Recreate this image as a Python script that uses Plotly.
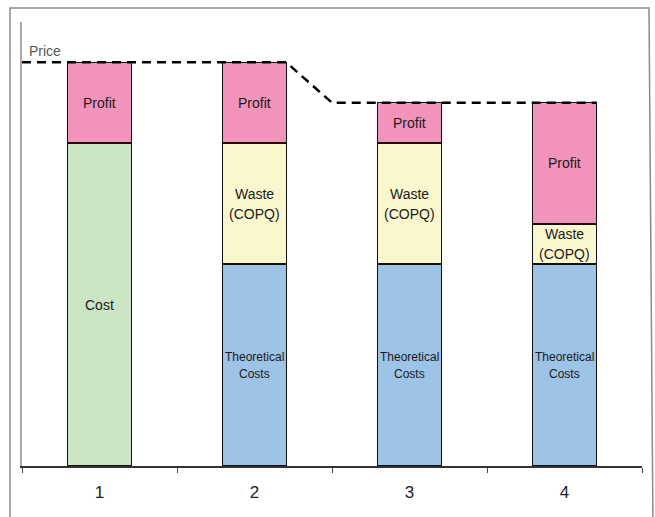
import plotly.graph_objects as go

# Chart data
categories = [1, 2, 3, 4]
tick_labels = ["1", "2", "3", "4"]
cost = [80, None, None, None]
theoretical = [None, 50, 50, 50]
waste = [None, 30, 30, 10]
profit = [20, 20, 10, 30]
price_levels = [100, 90]

BAR_W = 0.41
FONT = "Liberation Sans, Arial, sans-serif"
OUTLINE = dict(color="#111111", width=1.5)

fig = go.Figure()

series = [
    ("Cost", cost, "#CCE5C4"),
    ("Theoretical", theoretical, "#9DC3E6"),
    ("Waste", waste, "#FAF7CF"),
    ("Profit", profit, "#F293BC"),
]
for name, vals, color in series:
    fig.add_trace(go.Bar(
        x=categories, y=vals, name=name, width=BAR_W,
        marker=dict(color=color, line=OUTLINE),
        hoverinfo="skip", showlegend=False,
    ))

# Segment labels centred inside each stacked piece (one annotation per line)
label_text = {
    "Cost": (["Cost"], 14, 0),
    "Theoretical": (["Theoretical", "Costs"], 12, 17),
    "Waste": (["Waste", "(COPQ)"], 14, 20),
    "Profit": (["Profit"], 14, 0),
}
base = [0.0] * len(categories)
for name, vals, _ in series:
    for i, v in enumerate(vals):
        if v:
            lines, size, gap = label_text[name]
            n = len(lines)
            for k, line in enumerate(lines):
                fig.add_annotation(
                    x=categories[i], y=base[i] + v / 2, text=line, showarrow=False,
                    font=dict(family=FONT, size=size, color="#1a1a1a"),
                    xanchor="center", yanchor="middle",
                    yshift=((n - 1) / 2 - k) * gap,
                )
            base[i] += v

# Price line: runs along the tops of the first two bars, steps down, then the last two
price_x = [0.5, categories[1] + BAR_W / 2, categories[1] + 0.5, categories[3] + BAR_W / 2]
price_y = [price_levels[0], price_levels[0], price_levels[1], price_levels[1]]
fig.add_trace(go.Scatter(
    x=price_x, y=price_y, mode="lines",
    line=dict(color="#000000", width=2.5, dash="9px,6px"),
    hoverinfo="skip", showlegend=False,
))
fig.add_annotation(
    x=0.5, y=price_levels[0], text="Price", showarrow=False,
    xanchor="left", yanchor="bottom", xshift=5, yshift=1,
    font=dict(family=FONT, size=14, color="#555555"),
)

# Outer frame around the chart
L, T, PW, PH = 22, 22, 620, 444
def px(xp):
    return (xp - L) / PW
def py(yp):
    return (T + PH - yp) / PH
fig.add_shape(
    type="path", xref="paper", yref="paper",
    path=f"M {px(10)},{py(530)} L {px(10)},{py(8)} L {px(649)},{py(8)} L {px(653)},{py(530)}",
    line=dict(color="#8a8a8a", width=1.5),
)

fig.update_layout(
    width=655, height=517,
    margin=dict(l=L, r=655 - L - PW, t=T, b=517 - T - PH),
    paper_bgcolor="white", plot_bgcolor="white",
    barmode="stack",
    xaxis=dict(
        range=[0.5, 4.5], tickvals=categories, ticktext=tick_labels,
        ticks="", showgrid=False, zeroline=False,
        showline=True, linecolor="#333333", linewidth=1.5,
        tickfont=dict(family=FONT, size=17, color="#222222"),
        ticklabelstandoff=10,
        minor=dict(tick0=0.5, dtick=1, ticks="outside", ticklen=5,
                   tickcolor="#444444", tickwidth=1, showgrid=False),
    ),
    yaxis=dict(
        range=[0, 110], showticklabels=False, ticks="", showgrid=False,
        zeroline=False, showline=True, linecolor="#aaaaaa", linewidth=1.5,
    ),
)

fig.write_html("out.html")
